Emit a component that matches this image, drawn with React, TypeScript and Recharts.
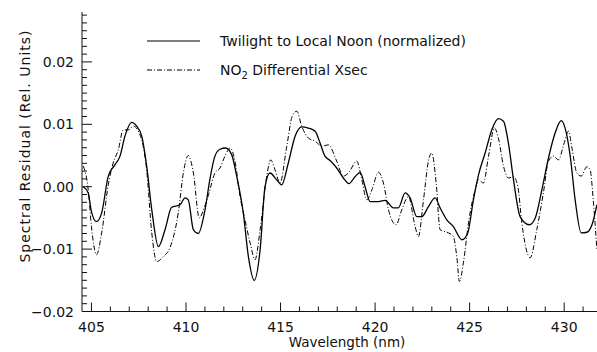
import React from 'react';
import { LineChart, Line, XAxis, YAxis, Legend } from 'recharts';

// Twilight to Local Noon (normalized) — solid
const solidX = [404.57, 404.83, 405.0, 405.27, 405.54, 405.89, 406.24, 406.51, 406.77, 407.13, 407.39, 407.66, 407.92, 408.19, 408.54, 408.89, 409.24, 409.68, 409.95, 410.12, 410.39, 410.65, 411.0, 411.27, 411.53, 411.8, 412.1, 412.42, 412.68, 413.03, 413.3, 413.61, 413.92, 414.18, 414.44, 414.8, 415.06, 415.41, 415.77, 416.12, 416.47, 416.83, 417.09, 417.35, 417.62, 417.97, 418.32, 418.62, 418.94, 419.21, 419.47, 419.74, 420.09, 420.53, 420.97, 421.23, 421.59, 421.85, 422.21, 422.47, 422.82, 423.17, 423.44, 423.79, 424.14, 424.59, 424.9, 425.2, 425.47, 425.82, 426.17, 426.52, 426.79, 427.05, 427.32, 427.67, 428.15, 428.47, 428.82, 429.17, 429.52, 429.84, 430.05, 430.32, 430.58, 430.9, 431.2, 431.47, 431.73];
const solidY = [0.0, -0.001, -0.004, -0.0056, -0.0042, 0.0017, 0.0035, 0.0049, 0.0081, 0.0103, 0.0097, 0.0081, 0.0033, -0.0037, -0.0096, -0.0069, -0.0033, -0.0029, -0.0018, -0.0021, -0.0069, -0.0075, -0.0038, 0.0013, 0.0049, 0.006, 0.0062, 0.0051, 0.0017, -0.0042, -0.0112, -0.015, -0.0101, 0.0, 0.0022, 0.0011, 0.0003, 0.0038, 0.0081, 0.0096, 0.0094, 0.0089, 0.007, 0.0049, 0.0042, 0.003, 0.0014, 0.0005, 0.0016, 0.0023, 0.0, -0.0024, -0.0024, -0.0022, -0.0034, -0.0034, -0.001, -0.0018, -0.0048, -0.0048, -0.0032, -0.0018, -0.0034, -0.0053, -0.0064, -0.0085, -0.0074, -0.0021, 0.0019, 0.0054, 0.0091, 0.0109, 0.0105, 0.007, 0.0011, -0.0048, -0.0061, -0.005, -0.0005, 0.0046, 0.0086, 0.0106, 0.0094, 0.0049, -0.0021, -0.0074, -0.0073, -0.0061, -0.0029];

// NO2 Differential Xsec — dash-dot
const xsecX = [404.57, 404.83, 405.0, 405.27, 405.54, 405.89, 406.15, 406.42, 406.68, 406.95, 407.21, 407.57, 407.92, 408.19, 408.45, 408.8, 409.15, 409.59, 409.86, 410.12, 410.39, 410.7, 410.95, 411.2, 411.53, 411.8, 412.06, 412.33, 412.59, 412.86, 413.12, 413.39, 413.65, 413.92, 414.27, 414.48, 414.71, 414.97, 415.33, 415.62, 415.86, 416.12, 416.47, 416.83, 417.18, 417.53, 417.97, 418.32, 418.59, 419.03, 419.3, 419.56, 419.83, 420.18, 420.44, 420.71, 421.11, 421.41, 421.76, 422.12, 422.29, 422.56, 422.82, 423.0, 423.23, 423.44, 423.88, 424.14, 424.32, 424.46, 424.67, 424.94, 425.29, 425.47, 425.73, 426.0, 426.31, 426.52, 426.79, 427.05, 427.32, 427.55, 427.76, 428.2, 428.55, 428.9, 429.17, 429.44, 429.7, 429.97, 430.23, 430.41, 430.67, 430.9, 431.2, 431.37, 431.55, 431.73];
const xsecY = [0.0033, -0.0005, -0.0064, -0.0109, -0.0074, 0.0003, 0.0038, 0.0059, 0.0091, 0.0091, 0.0097, 0.0083, 0.0027, -0.0074, -0.012, -0.0112, -0.0098, -0.0042, 0.0022, 0.005, 0.0022, -0.005, -0.0035, -0.0012, 0.0022, 0.003, 0.0049, 0.0062, 0.0041, -0.0016, -0.0053, -0.009, -0.0117, -0.0069, 0.0017, 0.0043, 0.0027, 0.0006, 0.0065, 0.0113, 0.0121, 0.0097, 0.0078, 0.0073, 0.0065, 0.0067, 0.0041, 0.0017, 0.0022, 0.0041, 0.0011, -0.0021, -0.0005, 0.0023, 0.0006, -0.0037, -0.0061, -0.0037, -0.0016, -0.0064, -0.008, -0.0021, 0.0041, 0.0054, 0.0006, -0.0069, -0.0074, -0.008, -0.0112, -0.0152, -0.0122, -0.0058, -0.0005, 0.0011, 0.0006, 0.0049, 0.0094, 0.0078, 0.0033, 0.0014, 0.0016, 0.0, -0.0058, -0.0114, -0.0069, -0.001, 0.0041, 0.0049, 0.0043, 0.0067, 0.0089, 0.0062, 0.0022, 0.0017, 0.0032, 0.0027, -0.0026, -0.0101];

const xMajorTicks = [405, 410, 415, 420, 425, 430];
const xMinorStep = 1;
const yMajorTicks = [-0.02, -0.01, 0, 0.01, 0.02];
const yTickLabels = ['\u22120.02', '\u22120.01', '0.00', '0.01', '0.02'];
const yMinorStep = 0.00125;

const X_DOMAIN: [number, number] = [404.5, 432];
const Y_DOMAIN: [number, number] = [-0.02, 0.028];

const seriesNames = ['Twilight to Local Noon (normalized)', 'NO2 Differential Xsec'];

const solidData = solidX.map((x, i) => ({ x, v: solidY[i] }));
const xsecData = xsecX.map((x, i) => ({ x, v: xsecY[i] }));

const xTicks: number[] = [];
for (let t = 405; t <= 432 + 1e-9; t += xMinorStep) xTicks.push(Math.round(t * 1000) / 1000);
const yTicks: number[] = [];
for (let i = 0; -0.02 + i * yMinorStep <= 0.028 + 1e-9; i++) yTicks.push(Math.round((-0.02 + i * yMinorStep) * 1e6) / 1e6);

const FONT = '"DejaVu Sans", Arial, sans-serif';
const TM = 4;
const INK = '#111';

const isXMajor = (v: number) => xMajorTicks.some((m) => Math.abs(m - v) < 1e-6);
const yMajorIndex = (v: number) => yMajorTicks.findIndex((m) => Math.abs(m - v) < 1e-7);

const BottomTick = (props: any) => {
  const { x, y, payload } = props;
  const ay = y - TM;
  const major = isXMajor(payload.value);
  const len = major ? 9 : 5;
  return (
    <g>
      <line x1={x} y1={ay} x2={x} y2={ay - len} stroke={INK} strokeWidth={1} />
      {major && (
        <text x={x} y={ay + 20} textAnchor="middle" fontFamily={FONT} fontSize={14} fill={INK}>
          {payload.value}
        </text>
      )}
    </g>
  );
};

const TopTick = (props: any) => {
  const { x, y, payload } = props;
  const ay = y + TM;
  const major = isXMajor(payload.value);
  const len = major ? 9 : 5;
  return <line x1={x} y1={ay} x2={x} y2={ay + len} stroke={INK} strokeWidth={1} />;
};

const LeftTick = (props: any) => {
  const { x, y, payload } = props;
  const ax = x + TM;
  const idx = yMajorIndex(payload.value);
  const len = idx >= 0 ? 10 : 5;
  return (
    <g>
      <line x1={ax} y1={y} x2={ax + len} y2={y} stroke={INK} strokeWidth={1} />
      {idx >= 0 && (
        <text x={ax - 8} y={y} dy="0.36em" textAnchor="end" fontFamily={FONT} fontSize={14} fill={INK}>
          {yTickLabels[idx]}
        </text>
      )}
    </g>
  );
};

const RightTick = (props: any) => {
  const { x, y, payload } = props;
  const ax = x - TM;
  const idx = yMajorIndex(payload.value);
  const len = idx >= 0 ? 10 : 5;
  return <line x1={ax} y1={y} x2={ax - len} y2={y} stroke={INK} strokeWidth={1} />;
};

const YTitle = () => (
  <text
    x={25}
    y={146}
    transform="rotate(-90 25 146)"
    textAnchor="middle"
    dy="0.35em"
    fontFamily={FONT}
    fontSize={14}
    letterSpacing={1}
    fill={INK}
  >
    Spectral Residual (Rel. Units)
  </text>
);

const XTitle = () => (
  <text x={347} y={347} textAnchor="middle" fontFamily={FONT} fontSize={13.5} fill={INK}>
    Wavelength (nm)
  </text>
);

const LegendContent = () => (
  <div style={{ position: 'relative', fontFamily: FONT, fontSize: 14, color: INK }}>
    <div style={{ position: 'absolute', left: 147, top: 31, height: 20, display: 'flex', alignItems: 'center', whiteSpace: 'nowrap' }}>
      <svg width={53} height={20}>
        <line x1={0} y1={10} x2={53} y2={10} stroke="#000" strokeWidth={1.2} />
      </svg>
      <span style={{ marginLeft: 20 }}>{seriesNames[0]}</span>
    </div>
    <div style={{ position: 'absolute', left: 147, top: 60, height: 20, display: 'flex', alignItems: 'center', whiteSpace: 'nowrap' }}>
      <svg width={53} height={20}>
        <line x1={0} y1={10} x2={53} y2={10} stroke="#000" strokeWidth={1} strokeDasharray="5 2 1 2" />
      </svg>
      <span style={{ marginLeft: 20 }}>
        NO<span style={{ fontSize: 10, position: 'relative', top: 4 }}>2</span> Differential Xsec
      </span>
    </div>
  </div>
);

export default function App() {
  return (
    <div style={{ position: 'absolute', left: 0, top: 0, width: 597, height: 352, overflow: 'hidden', background: '#fff' }}>
      <LineChart width={606} height={352} margin={{ top: 12, right: 4, bottom: 0, left: 0 }}>
        <XAxis
          xAxisId="b"
          dataKey="x"
          type="number"
          domain={X_DOMAIN}
          allowDataOverflow
          ticks={xTicks}
          interval={0}
          orientation="bottom"
          height={40.5}
          tickSize={0}
          tickMargin={TM}
          tickLine={false}
          axisLine={{ stroke: INK }}
          tick={<BottomTick />}
          label={<XTitle />}
        />
        <XAxis
          xAxisId="t"
          dataKey="x"
          type="number"
          domain={X_DOMAIN}
          allowDataOverflow
          ticks={xTicks}
          interval={0}
          orientation="top"
          height={0}
          tickSize={0}
          tickMargin={TM}
          tickLine={false}
          axisLine={{ stroke: INK }}
          tick={<TopTick />}
        />
        <YAxis
          yAxisId="l"
          type="number"
          domain={Y_DOMAIN}
          allowDataOverflow
          ticks={yTicks}
          interval={0}
          orientation="left"
          width={82}
          tickSize={0}
          tickMargin={TM}
          tickLine={false}
          axisLine={{ stroke: INK }}
          tick={<LeftTick />}
          label={<YTitle />}
        />
        <YAxis
          yAxisId="r"
          type="number"
          domain={Y_DOMAIN}
          allowDataOverflow
          ticks={yTicks}
          interval={0}
          orientation="right"
          width={0}
          tickSize={0}
          tickMargin={TM}
          tickLine={false}
          axisLine={{ stroke: INK }}
          tick={<RightTick />}
        />
        <Legend
          layout="horizontal"
          verticalAlign="middle"
          align="center"
          wrapperStyle={{ left: 0, top: 0, width: 597, height: 0 }}
          content={<LegendContent />}
        />
        <Line
          xAxisId="b"
          yAxisId="l"
          data={solidData}
          dataKey="v"
          name={seriesNames[0]}
          type="monotone"
          stroke="#000"
          strokeWidth={1.3}
          dot={false}
          isAnimationActive={false}
        />
        <Line
          xAxisId="b"
          yAxisId="l"
          data={xsecData}
          dataKey="v"
          name={seriesNames[1]}
          type="monotone"
          stroke="#000"
          strokeWidth={1}
          strokeDasharray="5 2 1 2"
          dot={false}
          isAnimationActive={false}
        />
      </LineChart>
    </div>
  );
}
